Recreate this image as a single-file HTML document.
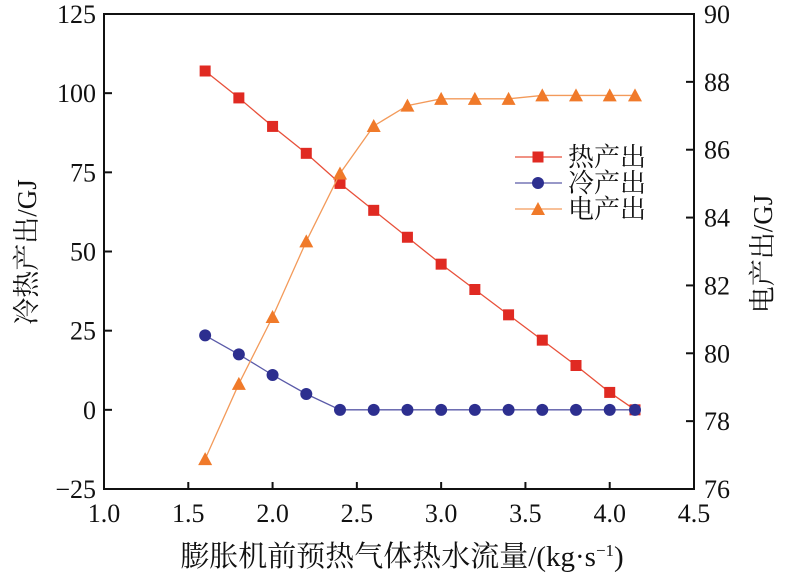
<!DOCTYPE html>
<html><head><meta charset="utf-8"><style>
body{margin:0;background:#fff;width:787px;height:578px;overflow:hidden}
text{font-family:"Liberation Serif","Noto Serif CJK SC",serif;fill:#111}
</style></head><body>
<svg id="chart" width="787" height="578" xmlns="http://www.w3.org/2000/svg"></svg>
<script>
const xVals=[1.6,1.8,2.0,2.2,2.4,2.6,2.8,3.0,3.2,3.4,3.6,3.8,4.0,4.15];
const heatVals=[107,98.5,89.5,81,71.5,63,54.5,46,38,30,22,14,5.5,0];
const coldVals=[23.5,17.5,11,5,0,0,0,0,0,0,0,0,0,0];
const elecVals=[76.88,79.1,81.07,83.3,85.3,86.7,87.3,87.5,87.5,87.5,87.6,87.6,87.6,87.6];
const xTicks=[1.0,1.5,2.0,2.5,3.0,3.5,4.0,4.5];
const yLTicks=[-25,0,25,50,75,100,125];
const yRTicks=[76,78,80,82,84,86,88,90];
const NS="http://www.w3.org/2000/svg";
const svg=document.getElementById('chart');
const L=104,R=694,T=14,B=489;
const xs=v=>L+(v-1)/(3.5)*(R-L);
const yl=v=>B-(v+25)/150*(B-T);
const yr=v=>B-(v-76)/14*(B-T);
function mk(tag,attrs,txt){const e=document.createElementNS(NS,tag);for(const k in attrs)e.setAttribute(k,attrs[k]);if(txt!==undefined)e.textContent=txt;svg.appendChild(e);return e;}
let f=mk('rect',{x:L,y:T,width:R-L,height:B-T,fill:'none',stroke:'#111','stroke-width':2});


xTicks.forEach(v=>{const x=xs(v);
 let t=mk('line',{x1:x,y1:B,x2:x,y2:B-7,stroke:'#111','stroke-width':2});
 
 
 let l=mk('text',{x:x,y:B+33,'text-anchor':'middle','font-size':26},v.toFixed(1));
 
 });
yLTicks.forEach(v=>{const y=yl(v);
 let t=mk('line',{x1:L,y1:y,x2:L+8,y2:y,stroke:'#111','stroke-width':2});
 
 
 let l=mk('text',{x:L-8,y:y+9,'text-anchor':'end','font-size':26},v<0?'\u221225':String(v));
 
 });
yRTicks.forEach(v=>{const y=yr(v);
 let t=mk('line',{x1:R,y1:y,x2:R-8,y2:y,stroke:'#111','stroke-width':2});
 
 
 let l=mk('text',{x:R+10,y:y+9,'text-anchor':'start','font-size':26},String(v));
 
 });
let xt=mk('text',{x:402,y:566,'text-anchor':'middle','font-size':29},'膨胀机前预热气体热水流量/(kg·s');


const ts=document.createElementNS(NS,'tspan');ts.setAttribute('dy','-10');ts.setAttribute('font-size','17');ts.textContent='−1';xt.appendChild(ts);
const ts2=document.createElementNS(NS,'tspan');ts2.setAttribute('dy','10');ts2.textContent=')';xt.appendChild(ts2);
let yt=mk('text',{x:0,y:0,'text-anchor':'middle','font-size':27,transform:'translate(36,252) rotate(-90)'},'冷热产出/GJ');


let yt2=mk('text',{x:0,y:0,'text-anchor':'middle','font-size':27,transform:'translate(772,254) rotate(-90)'},'电产出/GJ');


function marker(shape,x,y,c){
 if(shape==='sq')return mk('rect',{x:x-5.5,y:y-5.5,width:11,height:11,fill:c});
 if(shape==='ci')return mk('circle',{cx:x,cy:y,r:6,fill:c});
 return mk('polygon',{points:`${x},${y-7} ${x+7},${y+6} ${x-7},${y+6}`,fill:c});
}
const series=[
 {name:'heat',vals:heatVals,ys:yl,line:'#e8503a',mc:'#e02a22',sh:'sq'},
 {name:'cold',vals:coldVals,ys:yl,line:'#5a5aa8',mc:'#2d2f8f',sh:'ci'},
 {name:'elec',vals:elecVals,ys:yr,line:'#f39a5a',mc:'#f07a2a',sh:'tr'}];
series.forEach(s=>{
 const pts=s.vals.map((v,i)=>xs(xVals[i])+','+s.ys(v)).join(' ');
 let p=mk('polyline',{points:pts,fill:'none',stroke:s.line,'stroke-width':1.3});
 
 
 s.vals.forEach((v,i)=>{let m=marker(s.sh,xs(xVals[i]),s.ys(v),s.mc);
  
  });
});
const labels=['热产出','冷产出','电产出'];
series.forEach((s,i)=>{const y=157+i*26;
 let ln=mk('line',{x1:515,y1:y,x2:562,y2:y,stroke:s.line,'stroke-width':1.3});
 
 
 let m=marker(s.sh,538,y,s.mc);
 
 
 let t=mk('text',{x:568,y:y+9,'font-size':26},labels[i]);
 
 
});
</script>
</body></html>
